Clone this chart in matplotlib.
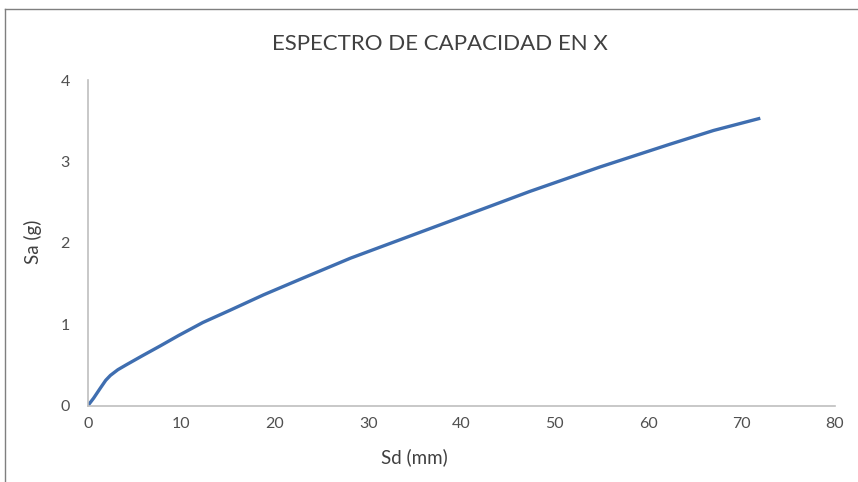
import matplotlib
matplotlib.use("Agg")
import matplotlib.pyplot as plt
from matplotlib.lines import Line2D

sd = [0, 0.6, 1.3, 1.9, 2.4, 3.2, 4.1, 5.8, 7.7, 9.7, 12.3, 15.2, 18.8, 22.7, 28.1,
      35.6, 43.1, 47.3, 54.8, 62.3, 67.0, 72.0]
sa = [0, 0.09, 0.21, 0.31, 0.37, 0.44, 0.50, 0.61, 0.73, 0.86, 1.02, 1.17, 1.36, 1.55, 1.81,
      2.13, 2.45, 2.63, 2.93, 3.21, 3.38, 3.53]

title = "ESPECTRO DE CAPACIDAD EN X"
xlabel = "Sd (mm)"
ylabel = "Sa (g)"
xticks = [0, 10, 20, 30, 40, 50, 60, 70, 80]
yticks = [0, 1, 2, 3, 4]

plt.rcParams['font.family'] = ['Lato', 'DejaVu Sans']

fig = plt.figure(figsize=(8.58, 4.82), dpi=100)
ax = fig.add_axes([88/858, 1-405.5/482, (835-88)/858, (405.5-80)/482])

ax.plot(sd, sa, color='#3F6EB0', lw=2.4, solid_capstyle='butt', solid_joinstyle='round')
ax.set_xlim(0, 80)
ax.set_ylim(0, 4)
ax.set_xticks(xticks)
ax.set_yticks(yticks)
ax.tick_params(length=0, labelsize=11.5, colors='#505050', pad=8)
ax.tick_params(axis='y', pad=13)
for s in ['top', 'right']:
    ax.spines[s].set_visible(False)
for s in ['left', 'bottom']:
    ax.spines[s].set_color('#BFBFBF')
    ax.spines[s].set_linewidth(1.2)

fig.text(440/858, 1-44/482, title, ha='center', va='center', fontsize=16, color='#404040')
fig.text(414/858, 1-457/482, xlabel, ha='center', va='center', fontsize=13.5, color='#404040')
fig.text(33/858, 1-242/482, ylabel, ha='center', va='center', fontsize=13.5, color='#404040', rotation=90)

fig.add_artist(Line2D([5/858, 1], [1-9/482, 1-9/482], transform=fig.transFigure, color='#7F7F7F', lw=1))
fig.add_artist(Line2D([5/858, 5/858], [0, 1-9/482], transform=fig.transFigure, color='#7F7F7F', lw=1))

fig.savefig('out.png', dpi=100)
